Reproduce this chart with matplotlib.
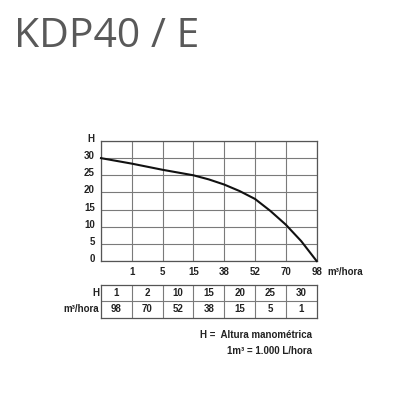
import matplotlib
matplotlib.use("Agg")
import matplotlib.pyplot as plt
import matplotlib.transforms as mtransforms

# curve: x in grid columns (0..7), H in metres
curve_x = [0, 0.5, 1, 1.5, 2, 2.5, 3, 3.5, 4, 4.5, 5, 5.5, 6, 6.5, 7]
curve_h = [30, 29.2, 28.4, 27.5, 26.6, 25.8, 25.0, 23.8, 22.3, 20.4, 18.1, 14.6, 10.6, 5.8, 0]

flow_ticks = ["1", "5", "15", "38", "52", "70", "98"]
h_ticks = [0, 5, 10, 15, 20, 25, 30]

table_h = ["1", "2", "10", "15", "20", "25", "30"]
table_flow = ["98", "70", "52", "38", "15", "5", "1"]

FONT = ["Liberation Sans Narrow", "Liberation Sans", "DejaVu Sans"]
TXT = "#222222"
GRID = "#7a7a7a"

plt.rcParams["font.family"] = FONT

fig = plt.figure(figsize=(4, 4), dpi=100)
fig.patch.set_facecolor("white")

fig.text(0.035, 0.8825, "KDP40 / E", family=["Open Sans", "DejaVu Sans"],
         fontsize=29.5, color="#595959", va="baseline", ha="left")

# main chart
ax = fig.add_axes([0.2525, 0.3475, 0.539, 0.30])
ax.set_xlim(0, 7)
ax.set_ylim(0, 35)
ax.set_xticks(range(8))
ax.set_xticklabels([""] + flow_ticks)
ax.set_yticks(h_ticks + [35])
ax.set_yticklabels([str(v) for v in h_ticks] + ["H"])
ax.grid(True, color=GRID, linewidth=0.8)
ax.tick_params(length=0, labelsize=7, colors=TXT)
ax.tick_params(axis="x", pad=4)
ax.tick_params(axis="y", pad=4.5)
for lbl in ax.get_xticklabels() + ax.get_yticklabels():
    lbl.set_fontweight("bold")
up = mtransforms.ScaledTranslation(0, 3 / 100, fig.dpi_scale_trans)
for lbl in ax.get_yticklabels():
    lbl.set_transform(lbl.get_transform() + up)
for s in ax.spines.values():
    s.set_color("#555555")
    s.set_linewidth(0.9)

ax.plot(curve_x, curve_h, color="#111111", linewidth=1.5, clip_on=False, zorder=3,
        solid_joinstyle="round")

# unit label next to the last tick, same baseline as tick labels
unit_tr = (mtransforms.blended_transform_factory(ax.transData, ax.transAxes)
           + mtransforms.ScaledTranslation(0, -4 / 72, fig.dpi_scale_trans))
ax.text(7.34, 0, "m³/hora", transform=unit_tr, fontsize=7,
        fontweight="bold", color=TXT, ha="left", va="top")

# table below
tx = fig.add_axes([0.2525, 0.20625, 0.539, 0.0825])
tx.set_xlim(0, 7)
tx.set_ylim(0, 2)
tx.set_xticks([])
tx.set_yticks([])
for s in tx.spines.values():
    s.set_color("#555555")
    s.set_linewidth(0.9)
for i in range(1, 7):
    tx.axvline(i, color=GRID, linewidth=0.8)
tx.axhline(1, color=GRID, linewidth=0.8)
for i in range(7):
    tx.text(i + 0.5, 1.5, table_h[i], ha="center", va="center", fontsize=7,
            fontweight="bold", color=TXT)
    tx.text(i + 0.5, 0.5, table_flow[i], ha="center", va="center", fontsize=7,
            fontweight="bold", color=TXT)
tx.text(-0.06, 1.5, "H", ha="right", va="center", fontsize=7, fontweight="bold", color=TXT)
tx.text(-0.06, 0.5, "m³/hora", ha="right", va="center", fontsize=7, fontweight="bold", color=TXT)

fig.text(0.78, 1 - 335 / 400, "H =  Altura manométrica", ha="right", va="center",
         fontsize=7, fontweight="bold", color=TXT)
fig.text(0.78, 1 - 351 / 400, "1m³ = 1.000 L/hora", ha="right", va="center",
         fontsize=7, fontweight="bold", color=TXT)

fig.savefig("out.png", dpi=100, facecolor="white")
